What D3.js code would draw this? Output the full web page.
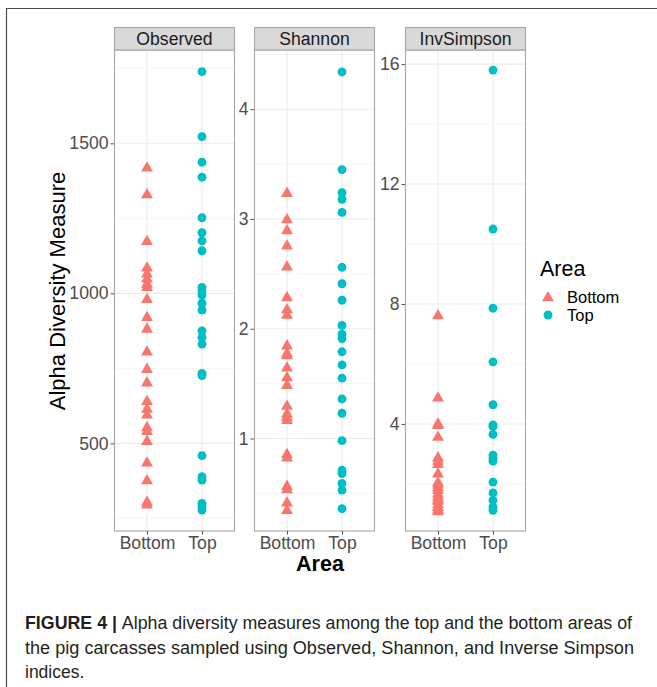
<!DOCTYPE html>
<html>
<head>
<meta charset="utf-8">
<script src="https://cdn.jsdelivr.net/npm/d3@7"></script>
<style>
  html, body { margin: 0; padding: 0; background: #fff; }
  svg { display: block; font-family: "Liberation Sans", Arial, sans-serif; }
</style>
</head>
<body>
<svg id="chart" width="657" height="687"></svg>
<script>
// Alpha diversity by sampling area (Bottom vs Top) for three indices
const areas = ["Bottom", "Top"];
const measures = ["Observed", "Shannon", "InvSimpson"];

const observedBottom = [1420, 1331, 1175, 1087, 1067, 1050, 1033, 1022, 982, 922, 883, 807, 749, 704, 642, 616, 597, 555, 542, 509, 437, 378, 306, 297];
const observedTop = [1739, 1522, 1437, 1387, 1252, 1202, 1175, 1142, 1020, 1009, 994, 967, 944, 875, 853, 831, 733, 726, 459, 389, 378, 300, 289, 278];

const shannonBottom = [3.24, 3.00, 2.90, 2.76, 2.57, 2.29, 2.18, 2.13, 1.85, 1.78, 1.76, 1.65, 1.56, 1.49, 1.30, 1.23, 1.20, 1.17, 0.86, 0.83, 0.57, 0.54, 0.42, 0.35];
const shannonTop = [4.34, 3.45, 3.24, 3.18, 3.06, 2.56, 2.41, 2.26, 2.03, 1.95, 1.91, 1.79, 1.67, 1.55, 1.36, 1.23, 0.98, 0.71, 0.68, 0.59, 0.53, 0.36];

const invSimpsonBottom = [7.63, 4.89, 4.02, 3.97, 3.58, 2.89, 2.78, 2.67, 2.36, 2.06, 1.99, 1.90, 1.81, 1.68, 1.58, 1.50, 1.45, 1.33, 1.24, 1.16, 1.10];
const invSimpsonTop = [15.8, 10.5, 7.86, 6.07, 4.64, 3.97, 3.91, 3.65, 2.96, 2.86, 2.76, 2.06, 1.70, 1.45, 1.23, 1.12];

const observedTicks = [500, 1000, 1500];
const shannonTicks = [1, 2, 3, 4];
const invSimpsonTicks = [4, 8, 12, 16];

const observedMinor = [250, 750, 1250, 1750];
const shannonMinor = [0.5, 1.5, 2.5, 3.5, 4.5];
const invSimpsonMinor = [2, 6, 10, 14];

const observedDomain = [208, 1811];
const shannonDomain = [0.157, 4.54];
const invSimpsonDomain = [0.43, 16.47];

const captionLines = [
  "Alpha diversity measures among the top and the bottom areas of",
  "the pig carcasses sampled using Observed, Shannon, and Inverse Simpson",
  "indices."
];

const panels = [
  { name: measures[0], x0: 114, x1: 235, domain: observedDomain, ticks: observedTicks, minor: observedMinor, values: [observedBottom, observedTop] },
  { name: measures[1], x0: 254, x1: 375, domain: shannonDomain, ticks: shannonTicks, minor: shannonMinor, values: [shannonBottom, shannonTop] },
  { name: measures[2], x0: 405, x1: 526, domain: invSimpsonDomain, ticks: invSimpsonTicks, minor: invSimpsonMinor, values: [invSimpsonBottom, invSimpsonTop] }
];

const colour = d3.scaleOrdinal().domain(areas).range(["#F8766D", "#00BFC4"]);
const shape = d3.scaleOrdinal().domain(areas).range([d3.symbolTriangle, d3.symbolCircle]);
const symbolSize = { Bottom: 62, Top: 62 };

const svg = d3.select("#chart");

// outer figure frame (open to the right and bottom)
svg.append("path")
  .attr("d", "M6.5,687 L6.5,8.5 L657,8.5")
  .attr("fill", "none").attr("stroke", "#4a4a4a").attr("stroke-width", 1.2);

const panelTop = 50, panelBottom = 531, stripTop = 27;
const axisText = "#4D4D4D";
const tickFont = 17.6;

panels.forEach(p => {
  const y = d3.scaleLinear().domain(p.domain).range([panelBottom, panelTop]);
  const x = d3.scalePoint().domain(areas).range([p.x0, p.x1]).padding(0.6);
  const g = svg.append("g");

  // panel background
  g.append("rect").attr("x", p.x0).attr("y", panelTop).attr("width", p.x1 - p.x0).attr("height", panelBottom - panelTop).attr("fill", "#fff");

  // minor grid
  g.selectAll(".minor").data(p.minor.filter(v => v >= p.domain[0] && v <= p.domain[1])).join("line")
    .attr("x1", p.x0).attr("x2", p.x1)
    .attr("y1", d => y(d)).attr("y2", d => y(d))
    .attr("stroke", "#F4F4F4").attr("stroke-width", 0.8);

  // major grid
  g.selectAll(".major").data(p.ticks).join("line")
    .attr("x1", p.x0).attr("x2", p.x1)
    .attr("y1", d => y(d)).attr("y2", d => y(d))
    .attr("stroke", "#EBEBEB").attr("stroke-width", 1.1);
  g.selectAll(".vmajor").data(areas).join("line")
    .attr("x1", d => x(d)).attr("x2", d => x(d))
    .attr("y1", panelTop).attr("y2", panelBottom)
    .attr("stroke", "#EBEBEB").attr("stroke-width", 1.1);

  // points
  areas.forEach((a, i) => {
    g.selectAll(null).data(p.values[i]).join("path")
      .attr("d", d3.symbol().type(shape(a)).size(symbolSize[a]))
      .attr("transform", d => `translate(${x(a)},${y(d) + (a === "Bottom" ? 0.8 : 0)})`)
      .attr("fill", colour(a));
  });

  // panel border
  g.append("rect").attr("x", p.x0 + 0.5).attr("y", panelTop).attr("width", p.x1 - p.x0 - 1).attr("height", panelBottom - panelTop)
    .attr("fill", "none").attr("stroke", "#A6A6A6").attr("stroke-width", 1.1);

  // strip
  g.append("rect").attr("x", p.x0 + 0.5).attr("y", stripTop + 0.5).attr("width", p.x1 - p.x0 - 1).attr("height", panelTop - stripTop - 0.5)
    .attr("fill", "#D9D9D9").attr("stroke", "#A6A6A6").attr("stroke-width", 1.1);
  g.append("text").attr("x", (p.x0 + p.x1) / 2).attr("y", panelTop - 5)
    .attr("text-anchor", "middle").attr("font-size", 17.6).attr("fill", "#1A1A1A").text(p.name);

  // y axis
  const yAxis = d3.axisLeft(y).tickValues(p.ticks).tickSize(3.5).tickPadding(2).tickFormat(d3.format("d"));
  const ya = g.append("g").attr("transform", `translate(${p.x0},0)`).call(yAxis);
  ya.select(".domain").remove();
  ya.selectAll(".tick line").attr("stroke", "#555").attr("stroke-width", 1);
  ya.selectAll(".tick text").attr("font-size", tickFont).attr("fill", axisText).attr("font-family", "Liberation Sans, Arial, sans-serif");

  // x axis
  const xAxis = d3.axisBottom(x).tickSize(3.5).tickPadding(2);
  const xa = g.append("g").attr("transform", `translate(0,${panelBottom})`).call(xAxis);
  xa.select(".domain").remove();
  xa.selectAll(".tick line").attr("stroke", "#555").attr("stroke-width", 1);
  xa.selectAll(".tick text").attr("font-size", tickFont).attr("fill", axisText).attr("font-family", "Liberation Sans, Arial, sans-serif");
});

// axis titles
svg.append("text").attr("transform", "translate(65,291) rotate(-90)")
  .attr("text-anchor", "middle").attr("font-size", 22).attr("fill", "#000").text("Alpha Diversity Measure");
svg.append("text").attr("x", 320).attr("y", 571)
  .attr("text-anchor", "middle").attr("font-size", 21.5).attr("font-weight", "bold").attr("fill", "#000").text("Area");

// legend
const legend = svg.append("g");
legend.append("text").attr("x", 540).attr("y", 276).attr("font-size", 21.5).attr("fill", "#000").text("Area");
areas.forEach((a, i) => {
  const cy = 297 + i * 18;
  legend.append("path")
    .attr("d", d3.symbol().type(shape(a)).size(symbolSize[a]))
    .attr("transform", `translate(${548},${cy + (a === "Bottom" ? 0.8 : 0)})`)
    .attr("fill", colour(a));
  legend.append("text").attr("x", 567).attr("y", cy + 5.5).attr("font-size", 16.5).attr("fill", "#000").text(a);
});

// caption
const cap = svg.append("g").attr("fill", "#231F20").attr("font-size", 17.5);
const first = cap.append("text").attr("x", 25).attr("y", 629);
first.append("tspan").attr("font-weight", "bold").text("FIGURE 4 | ");
first.append("tspan").text(captionLines[0]);
first.attr("textLength", 607).attr("lengthAdjust", "spacingAndGlyphs");
cap.append("text").attr("x", 25).attr("y", 654).attr("textLength", 609).attr("lengthAdjust", "spacingAndGlyphs").text(captionLines[1]);
cap.append("text").attr("x", 25).attr("y", 678).text(captionLines[2]);
</script>
</body>
</html>
